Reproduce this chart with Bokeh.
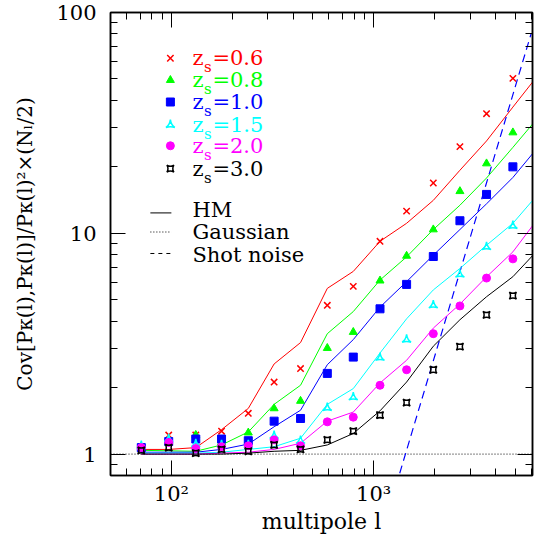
import math
from bokeh.plotting import figure
from bokeh.models import FixedTicker, LogAxis, CustomJSTickFormatter
from bokeh.core.properties import value
from bokeh.embed import file_html
from bokeh.resources import INLINE

# ---------------- data ----------------
ell = [71, 97, 132, 177, 240, 322, 435, 590, 793, 1075, 1455, 1972, 2670, 3615, 4880]
ell_hm = [71, 97, 132, 177, 240, 322, 435, 590, 793, 1075, 1455, 1972, 2670, 3615, 4880, 6600]

sim_z06 = [1.07, 1.22, 1.22, 1.27, 1.53, 2.12, 2.44, 4.72, 5.75, 9.2, 12.6, 16.9, 24.7, 34.8, 50.3]
sim_z08 = [1.08, 1.15, 1.22, 1.13, 1.25, 1.61, 1.74, 3.02, 3.57, 6.1, 7.9, 10.4, 15.5, 20.7, 28.6]
sim_z10 = [1.07, 1.14, 1.17, 1.17, 1.15, 1.41, 1.45, 2.32, 2.75, 4.55, 5.87, 7.85, 11.4, 15.0, 20.0]
sim_z15 = [1.09, 1.17, 1.11, 1.10, 1.10, 1.21, 1.15, 1.62, 1.81, 2.73, 3.3, 4.72, 6.51, 8.67, 10.8]
sim_z20 = [1.07, 1.13, 1.06, 1.08, 1.09, 1.16, 1.09, 1.40, 1.47, 2.05, 2.41, 3.51, 4.69, 6.27, 7.66]
sim_z30 = [1.04, 1.07, 1.01, 1.05, 1.03, 1.10, 1.05, 1.16, 1.27, 1.50, 1.71, 2.41, 3.07, 4.27, 5.22]

hm_z06 = [1.05, 1.05, 1.07, 1.29, 1.61, 2.56, 3.2, 5.63, 6.72, 9.2, 11.1, 14.1, 19.3, 26.2, 37.3, 53.0]
hm_z08 = [1.04, 1.035, 1.03, 1.10, 1.26, 1.68, 2.05, 3.51, 4.42, 6.14, 7.82, 10.4, 13.4, 17.8, 24.5, 34.0]
hm_z10 = [1.02, 1.02, 1.02, 1.05, 1.11, 1.33, 1.58, 2.54, 3.3, 4.63, 6.04, 7.96, 10.4, 13.6, 17.9, 25.0]
hm_z15 = [1.01, 1.01, 1.01, 1.02, 1.05, 1.08, 1.18, 1.68, 1.98, 2.87, 4.1, 5.54, 6.93, 8.83, 11.1, 15.3]
hm_z20 = [1.0, 1.0, 1.0, 1.01, 1.02, 1.05, 1.12, 1.41, 1.55, 2.10, 2.66, 3.72, 4.78, 6.35, 8.24, 11.9]
hm_z30 = [1.0, 1.0, 1.0, 1.0, 1.01, 1.03, 1.04, 1.10, 1.24, 1.57, 2.12, 3.08, 4.06, 5.16, 6.36, 8.55]

gauss_ell = [50, 6100]
gauss = [1.0, 1.0]
shot_ell = [1000, 6000]
shot = [0.33, 80.0]

zs_labels = ["0.6", "0.8", "1.0", "1.5", "2.0", "3.0"]
sims = [sim_z06, sim_z08, sim_z10, sim_z15, sim_z20, sim_z30]
hms = [hm_z06, hm_z08, hm_z10, hm_z15, hm_z20, hm_z30]
colors = ["#ff0000", "#00ff00", "#0000ff", "#00ffff", "#ff00ff", "#000000"]
markers = ["x", "triangle", "square", "triangle_pin", "circle", "square_pin"]
msizes = [9, 8, 8, 9, 8, 7]
filled = [False, True, True, False, True, False]

x_tick_labels = {100: "10\u00b2", 1000: "10\u00b3"}

FONT = "DejaVu Serif"

# ---------------- figure ----------------
p = figure(width=534, height=536, x_axis_type="log", y_axis_type="log",
           x_range=(50, 6100), y_range=(0.8, 100),
           output_backend="svg", toolbar_location=None,
           min_border_left=110, min_border_right=2, min_border_top=12, min_border_bottom=59)
p.grid.visible = False
p.outline_line_color = "black"
p.outline_line_width = 1.5
p.background_fill_color = "white"
p.border_fill_color = "white"

xt = FixedTicker(ticks=[100, 1000],
                 minor_ticks=[60, 70, 80, 90, 200, 300, 400, 500, 600, 700, 800, 900,
                              2000, 3000, 4000, 5000, 6000])
yt = FixedTicker(ticks=[1, 10, 100],
                 minor_ticks=[0.8, 0.9, 2, 3, 4, 5, 6, 7, 8, 9, 20, 30, 40, 50, 60, 70, 80, 90])

xfmt = CustomJSTickFormatter(args=dict(m={str(k): v for k, v in x_tick_labels.items()}),
                             code="const k = String(Math.round(tick)); return (k in m) ? m[k] : '';")
yfmt = CustomJSTickFormatter(code="return String(Math.round(tick));")
blank = CustomJSTickFormatter(code="return '';")


def style_axis(ax, show):
    ax.major_tick_in = 15
    ax.major_tick_out = 0
    ax.minor_tick_in = 7
    ax.minor_tick_out = 0
    ax.axis_line_color = "black"
    ax.axis_line_width = 1.5
    ax.major_tick_line_color = "black"
    ax.minor_tick_line_color = "black"
    ax.major_tick_line_width = 1
    ax.minor_tick_line_width = 1
    ax.major_label_text_font = FONT
    ax.major_label_text_color = "black"
    ax.axis_label_text_font = FONT
    ax.axis_label_text_font_style = "normal"
    ax.axis_label_text_color = "black"
    if show:
        ax.major_label_text_font_size = "21px"
    else:
        ax.major_label_text_font_size = "0px"
        ax.major_label_standoff = 0
        ax.formatter = blank


p.xaxis.ticker = xt
p.yaxis.ticker = yt
p.xaxis.formatter = xfmt
p.yaxis.formatter = yfmt
style_axis(p.xaxis[0], True)
style_axis(p.yaxis[0], True)
p.xaxis.major_label_standoff = 6
p.yaxis.major_label_standoff = 14
p.xaxis.axis_label = "multipole l"
p.xaxis.axis_label_text_font_size = "22px"
p.xaxis.axis_label_standoff = 0
p.yaxis.axis_label = "Cov[P\u03ba(l),P\u03ba(l)]/P\u03ba(l)\u00b2\u00d7(N\u2097/2)"
p.yaxis.axis_label_text_font_size = "20px"
p.yaxis.axis_label_standoff = 16

top_ax = LogAxis(ticker=xt)
right_ax = LogAxis(ticker=yt)
style_axis(top_ax, False)
style_axis(right_ax, False)
p.add_layout(top_ax, "above")
p.add_layout(right_ax, "right")

# ---------------- reference lines ----------------
p.line(gauss_ell, gauss, line_color="black", line_width=1, line_dash="1 2")
p.line(shot_ell, shot, line_color="#0000ff", line_width=1.2, line_dash="8 5")

# ---------------- HM lines and simulation points ----------------
for hm, c in zip(hms, colors):
    p.line(ell_hm, hm, line_color=c, line_width=1)

for sim, c, mk, ms, f in zip(sims, colors, markers, msizes, filled):
    p.scatter(ell, sim, marker=mk, size=ms, line_color=c, fill_color=c if f else None,
              line_width=1.5 if not f else 1)


# ---------------- legend (placed by picture position) ----------------
def rx(px):
    return 10 ** (2 + (px - 171) / 202.0)


def ry(py):
    return 10 ** ((455 - py) / 222.0)


rows = [57, 79, 101, 124, 145, 168]
for r, lab, c, mk, ms, f in zip(rows, zs_labels, colors, markers, msizes, filled):
    yy = ry(r)
    p.scatter([rx(170)], [yy], marker=mk, size=ms, line_color=c,
              fill_color=c if f else None, line_width=1.5 if not f else 1)
    p.text([rx(192)], [yy], text=["z"], text_font=value(FONT), text_font_size="21px",
           text_color=c, text_baseline="middle", text_align="left")
    p.text([rx(192)], [yy], text=["s"], x_offset=11.5, y_offset=9, text_font=value(FONT),
           text_font_size="15px", text_color=c, text_baseline="middle", text_align="left")
    p.text([rx(192)], [yy], text=["=" + lab], x_offset=20, text_font=value(FONT),
           text_font_size="21px", text_color=c, text_baseline="middle", text_align="left")

leg_items = [("HM", None, 212.5, 210), ("Gaussian", "1 2", 231.7, 232), ("Shot noise", "4 4", 253.3, 254.7)]
for name, dash, ly, ty in leg_items:
    kw = {} if dash is None else {"line_dash": dash}
    p.line([rx(150), rx(171)], [ry(ly), ry(ly)], line_color="black", line_width=1, **kw)
    p.text([rx(192)], [ry(ty)], text=[name], text_font=value(FONT), text_font_size="21px",
           text_color="black", text_baseline="middle", text_align="left")

open("out.html", "w").write(file_html(p, INLINE))
